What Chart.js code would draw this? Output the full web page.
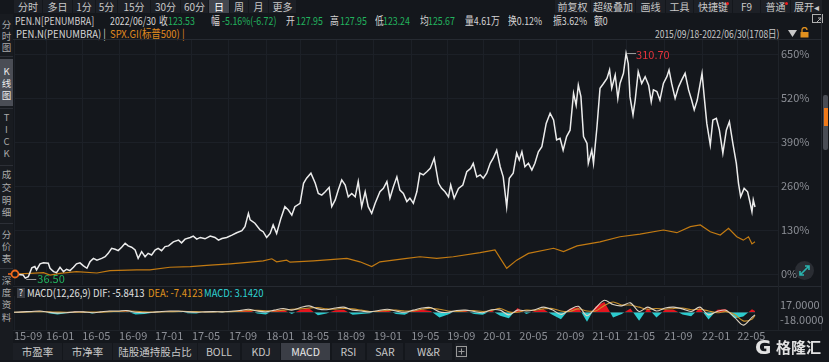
<!DOCTYPE html>
<html><head><meta charset="utf-8">
<script src="https://cdn.jsdelivr.net/npm/chart.js@4.4.0/dist/chart.umd.min.js"></script>
<style>
body{margin:0;width:829px;height:362px;overflow:hidden;background:#14171c;position:relative;font-family:"Noto Sans CJK SC","Noto Sans",sans-serif;font-size:11px;color:#d4d4d4}
.a{position:absolute;white-space:nowrap;line-height:14px;transform:scaleX(0.86);transform-origin:0 50%}
.a.n{transform:scaleX(0.8)}
.tb{position:absolute;top:0;height:13px;background:#1d2026;color:#c9c9c9;font-size:10px;line-height:13px;text-align:center;white-space:nowrap}
.tb.on{background:#44474f;color:#fff}
.sb{position:absolute;left:0;width:13px;text-align:center;font-size:9.5px;line-height:11px;color:#a9a9a9}
.tab{position:absolute;top:343px;height:17px;background:#1c1f25;color:#c8c8c8;font-size:10.5px;line-height:17px;text-align:center;white-space:nowrap}
.tab.on{background:#3b3e46;color:#e8e8e8}
.g{color:#22b35e}
.hl{position:absolute;height:1px;background:#262a31}
.vl{position:absolute;width:1px;background:#262a31}
canvas{position:absolute}
</style></head><body>
<div id="ui"></div>
<canvas id="main" width="829" height="245" style="left:0;top:40px"></canvas>
<canvas id="macd" width="829" height="46" style="left:0;top:296px"></canvas>
<div id="over"></div>
<script>
// ---------- data ----------
const tickIdx = [0,74,157,242,325,410,495,581,661,744,829,915,998,1081,1164,1249,1332,1412,1498,1585,1666];
const tickLabels = ['15-09','16-01','16-05','16-09','17-01','17-05','17-09','18-01','18-05','18-09','19-01','19-05','19-09','20-01','20-05','20-09','21-01','21-05','21-09','22-01','22-05'];
const pctTicks = [0,130,260,390,520,650];
const macdTicks = [17,-18];

const penIdx = [0,21,26,33,41,48,52,60,68,79,83,91,98,106,114,121,129,137,144,152,160,168,175,183,191,202,210,217,225,233,240,248,256,263,271,279,286,294,302,309,317,325,332,340,348,356,367,379,386,394,406,413,421,429,440,452,463,471,479,490,502,513,525,532,540,544,555,567,574,582,590,597,605,615,624,632,640,647,659,667,674,684,694,701,709,717,726,732,740,747,755,763,770,778,786,793,801,809,816,824,832,843,851,859,866,874,882,889,897,905,912,920,928,935,943,951,959,968,978,985,993,1001,1006,1014,1024,1034,1043,1052,1058,1066,1074,1081,1089,1097,1104,1112,1120,1127,1135,1141,1150,1158,1164,1170,1177,1185,1193,1200,1208,1216,1226,1235,1243,1250,1258,1265,1273,1281,1289,1295,1300,1306,1312,1320,1323,1331,1335,1343,1350,1358,1366,1372,1377,1385,1391,1396,1404,1410,1415,1419,1426,1431,1438,1446,1454,1462,1468,1473,1481,1488,1496,1504,1509,1515,1523,1531,1538,1546,1554,1561,1567,1574,1585,1590,1596,1604,1610,1618,1625,1633,1641,1648,1656,1664,1669,1674,1682,1690,1696,1700,1703,1707];
const penPct = [0,-3,-12,-8,18,22,12,30,33,32,17,7,4,20,7,14,10,20,30,33,24,17,36,46,41,46,51,61,76,73,69,79,91,83,79,71,46,66,51,61,56,71,76,69,81,83,95,100,92,103,108,112,103,108,104,112,108,100,105,108,115,122,128,140,179,160,150,130,125,108,120,145,120,165,199,189,174,199,209,268,283,298,268,238,233,243,256,199,219,248,278,263,228,238,228,273,199,243,199,179,209,243,253,273,224,258,287,248,238,214,224,209,243,298,293,302,312,342,268,253,243,228,263,224,253,263,302,312,327,287,293,283,298,327,342,366,317,287,199,283,298,357,337,361,317,327,307,327,361,376,445,475,455,396,401,366,406,425,534,499,558,524,406,386,327,366,327,435,549,563,578,603,549,588,519,563,593,652,622,524,470,514,598,563,583,558,509,544,539,514,563,583,603,563,519,553,573,593,544,514,485,514,593,524,445,381,455,460,425,357,425,450,386,327,268,228,253,243,209,184,219,198];

const spxIdx = [0,37,68,83,106,144,191,221,283,313,359,406,452,498,544,574,594,605,628,636,690,767,797,824,843,905,935,974,1012,1074,1108,1135,1158,1185,1243,1266,1297,1350,1396,1442,1496,1527,1558,1581,1604,1627,1646,1665,1680,1692,1700,1707];
const spxPct = [0,2,4,-3,2,7,3,10,12,12,20,22,26,30,35,39,45,36,41,35,39,46,36,22,36,46,51,46,51,63,71,17,41,61,76,66,83,95,110,118,130,122,140,145,125,115,135,110,100,110,89,95];

const macdIdx = [0,20,40,60,80,100,120,140,160,180,200,220,240,260,280,300,320,340,360,380,400,420,440,460,480,500,520,540,560,580,600,620,640,660,680,700,720,740,760,780,800,820,840,860,880,900,920,940,960,980,1000,1020,1040,1060,1080,1100,1120,1140,1160,1180,1200,1220,1240,1260,1280,1300,1320,1340,1360,1380,1400,1420,1440,1460,1480,1500,1520,1540,1560,1580,1600,1620,1640,1660,1680,1700,1707];
const macdHist = [0,1,2,3,-2,-5,-2,2,1,-3, 1,3,2,2,-5,-4,-1,2,3,2, -2,-3,1,1,-1,2,3,6,-3,-5, 5,6,-4,6,9,-7,-3,5,6,-6, -4,-2,3,5,-4,-6,4,6,3,-12, -5,4,3,-4,-6,4,-8,-14,10,-4, 3,7,-6,-16,8,12,-22,14,24,-12, -4,9,-20,10,-12,6,6,-5,-9,10, -17,6,7,-14,-10,7,3.142];
const macdDif = [0,1,2,3,0,-2,-1,1,1,-1, 1,3,3,4,0,-1,0,2,3,3, 1,0,1,1.5,1,2.5,4,7,3,1, 5,9,5,11,15,8,6,10,12,5, 3,1,4,7,3,0,5,10,11,1, 0,4,5,2,-1,6,5,-6,5,3, 6,12,6,-5,6,14,-8,10,28,18, 15,22,2,12,3,10,12,8,2,12, -6,2,5,-12,-30,-12,-5.8413];
const macdDea = [0,0.5,1,1.5,1,0.5,0,0,0.5,0.5, 0.5,1.5,2,3,2.5,1,0.5,1,1.5,2, 2,1.5,0.8,1,1.2,1.5,2.5,4,4.5,3.5, 3,5,7,8,10,11,8,7.5,9,8, 5,2,2.5,4.5,5,3,3,7,9.5,7, 3,2,3.5,4,2,4,9,1,0,5, 4.5,8,9,3,2,8,3,3,16,24, 17,17,12,7,9,7,9,10,6,7, 3,-1,1.5,-5,-20,-16,-7.4123];

const penHighLabel = '310.70';
const penLowLabel = '36.50';

// ---------- UI chrome ----------
const ui = document.getElementById('ui');
function add(html){ ui.insertAdjacentHTML('beforeend', html); }
const leftBtns = [['分时',14,28],['多日',43,29],['1分',73,22],['5分',96,21],['15分',118,32],['30分',151,29],['60分',181,27],['日',209,20,1],['周',230,18],['月',249,19],['更多',269,27]];
leftBtns.forEach(b=>add(`<div class="tb${b[3]?' on':''}" style="left:${b[1]}px;width:${b[2]}px">${b[0]}</div>`));
const rightBtns = [['前复权',555,35],['超级叠加',591,44],['画线',636,29],['工具',666,27],['快捷键',694,38],['F9',733,27],['普通',761,29],['展开◂',791,31]];
rightBtns.forEach(b=>add(`<div class="tb" style="left:${b[1]}px;width:${b[2]}px">${b[0]}</div>`));
add('<div style="position:absolute;left:726px;top:2px;width:3px;height:3px;border-radius:2px;background:#f02020"></div>');
add('<div style="position:absolute;left:785px;top:2px;width:3px;height:3px;border-radius:2px;background:#f02020"></div>');

const row2 = [[15,'PEN.N[PENUMBRA]'],[110,'2022/06/30'],[159,'收'],[168,'123.53',1],[211,'幅'],[222,'-5.16%(-6.72)',1],[286,'开'],[296,'127.95',1],[330,'高'],[340,'127.95',1],[375,'低'],[383,'123.24',1],[420,'均'],[428,'125.67',1],[465,'量4.61万'],[508,'换0.12%'],[553,'振3.62%'],[594,'额0']];
row2.forEach(r=>add(`<div class="a n${r[2]?' g':''}" style="left:${r[0]}px;top:13px">${r[1]}</div>`));
add('<svg style="position:absolute;left:812px;top:14px" width="12" height="11"><rect x="0.5" y="0.5" width="10" height="8" fill="none" stroke="#b0b0b0"/><path d="M4 9 L9 4 M6 4 H9 V7" stroke="#b0b0b0" fill="none"/></svg>');

add('<div class="a" style="left:16px;top:26px;color:#d8d8d8">PEN.N(PENUMBRA) |</div>');
add('<div class="a" style="left:110px;top:26px;color:#e08a1e">SPX.GI(标普500) |</div>');
add('<div class="a" style="left:655px;top:26px;color:#c8c8c8;text-decoration:underline;transform:scaleX(0.77)">2015/09/18-2022/06/30(1708日)</div>');
add('<svg style="position:absolute;left:788px;top:29px" width="10" height="9"><path d="M0 1 H9 L4.5 8 Z" fill="#c8c8c8"/></svg>');
add('<svg style="position:absolute;left:800px;top:27px" width="9" height="11"><path d="M2 5 V3 A2.5 2.5 0 0 1 7 3" stroke="#e0901e" fill="none" stroke-width="1.3"/><rect x="0.5" y="5" width="8" height="5.5" fill="#e0901e"/></svg>');

// sidebar
add('<div style="position:absolute;left:0;top:14px;width:13px;height:346px;background:#181b20"></div>');
add('<div style="position:absolute;left:0;top:59px;width:13px;height:47px;background:#4a4d55"></div>');
const sideChars = [['分',24],['时',36],['图',47],['K',71,1],['线',83,1],['图',95,1],['T',117],['I',129],['C',141],['K',153],['成',174],['交',187],['明',200],['细',212],['分',234],['价',246],['表',258],['深',280],['度',292],['资',304],['料',317]];
sideChars.forEach(c=>add(`<div class="sb" style="top:${c[1]-5.5}px;${c[2]?'color:#eee':''}">${c[0]}</div>`));
[56,108,165,223,268].forEach(y=>add(`<div style="position:absolute;left:0;top:${y}px;width:13px;height:1px;background:#2c2f36"></div>`));

// panel frame lines
add('<div class="hl" style="left:13px;top:39px;width:809px"></div>');
add('<div class="hl" style="left:13px;top:286px;width:809px"></div>');
add('<div class="hl" style="left:13px;top:330px;width:809px;background:#1e2228"></div>');
add('<div class="vl" style="left:778px;top:40px;height:290px;background:#1f2329"></div>');
add('<div class="vl" style="left:821px;top:14px;height:316px"></div>');

// MACD legend
add('<div style="position:absolute;left:17px;top:288px;width:8px;height:10px;background:#3a3d44;color:#eee;font-size:9px;line-height:10px;text-align:center">?</div>');
add('<div class="a" style="left:27px;top:285px;color:#e0e0e0">MACD(12,26,9)</div>');
add('<div class="a" style="left:93px;top:285px;color:#e0e0e0">DIF: -5.8413</div>');
add('<div class="a" style="left:148px;top:285px;color:#e0941e">DEA: -7.4123</div>');
add('<div class="a" style="left:204px;top:285px;color:#2fd2d4">MACD: 3.1420</div>');

// bottom tabs
const tabs = [['市盈率',13,49],['市净率',63,49],['陆股通持股占比',113,84],['BOLL',198,42],['KDJ',242,38],['MACD',281,49,1],['RSI',332,33],['SAR',367,36],['W&amp;R',405,47],['',455,12]];
tabs.forEach(t=>add(`<div class="tab${t[3]?' on':''}" style="left:${t[1]}px;width:${t[2]}px">${t[0]}</div>`));
add('<svg style="position:absolute;left:456px;top:346px" width="11" height="11"><rect x="0.5" y="0.5" width="10" height="10" fill="none" stroke="#999"/><path d="M5.5 2.5 V8.5 M2.5 5.5 H8.5" stroke="#999"/></svg>');

// ---------- charts ----------
Chart.defaults.font.family = "'Noto Sans CJK SC','Noto Sans',sans-serif";
Chart.defaults.font.size = 11;
const gridColor = '#1c2027';
const tickColor = '#8c8f96';
function xTicksBuild(axis){ axis.ticks = tickIdx.map(v=>({value:v})); }
function noPad(s){ s.paddingTop=0; s.paddingBottom=0; s.paddingLeft=0; s.paddingRight=0; }

const marks = {
  id:'marks',
  afterDatasetsDraw(chart){
    const {ctx, scales:{x,y}} = chart;
    let hi=0, lo=0;
    penPct.forEach((v,i)=>{ if(v>penPct[hi]) hi=i; if(v<penPct[lo]) lo=i; });
    ctx.save();
    ctx.font = "11px 'Noto Sans CJK SC','Noto Sans',sans-serif";
    ctx.textBaseline = 'middle';
    ctx.lineWidth = 1;
    ctx.strokeStyle = '#9a9a9a';
    const hx = x.getPixelForValue(penIdx[hi]), hy = y.getPixelForValue(penPct[hi]);
    ctx.beginPath(); ctx.moveTo(hx+1, Math.round(hy)+0.5); ctx.lineTo(hx+10, Math.round(hy)+0.5); ctx.stroke();
    ctx.fillStyle = '#e3333b'; ctx.fillText(penHighLabel, hx+10, hy+1);
    const lx = x.getPixelForValue(penIdx[lo]), ly = y.getPixelForValue(penPct[lo]);
    ctx.beginPath(); ctx.moveTo(lx+1, Math.round(ly)+1.5); ctx.lineTo(lx+11, Math.round(ly)+1.5); ctx.stroke();
    ctx.fillStyle = '#22b35e'; ctx.fillText(penLowLabel, lx+12, ly+1);
    // start marker
    const sx = x.getPixelForValue(spxIdx[0]), sy = y.getPixelForValue(spxPct[0]);
    ctx.strokeStyle = '#f26b1d'; ctx.lineWidth = 1.8;
    ctx.beginPath(); ctx.arc(sx+1, sy, 3.5, 0, Math.PI*2); ctx.fillStyle='#14171c'; ctx.fill(); ctx.stroke();
    ctx.lineWidth = 1.5;
    ctx.beginPath(); ctx.moveTo(sx-6, sy); ctx.lineTo(sx-3, sy); ctx.stroke();
    ctx.restore();
  }
};

new Chart(document.getElementById('main'), {
  type:'line',
  data:{ datasets:[
    { data: penIdx.map((v,i)=>({x:v,y:penPct[i]})), borderColor:'#ececec', borderWidth:1.5, pointRadius:0, tension:0 },
    { data: spxIdx.map((v,i)=>({x:v,y:spxPct[i]})), borderColor:'#c27a12', borderWidth:1.2, pointRadius:0, tension:0 }
  ]},
  options:{
    responsive:false, animation:false, devicePixelRatio:1,
    layout:{ padding:{left:14,right:0,top:0,bottom:0} },
    plugins:{ legend:{display:false}, tooltip:{enabled:false} },
    scales:{
      x:{ type:'linear', min:0, max:1760, afterBuildTicks:xTicksBuild, afterFit:noPad,
          ticks:{display:false}, grid:{color:gridColor, drawTicks:false}, border:{display:false} },
      y:{ position:'right', min:-32.5, max:691.4,
          afterBuildTicks:a=>{ a.ticks = pctTicks.map(v=>({value:v})); },
          afterFit:s=>{ s.width=51; noPad(s); },
          ticks:{ color:tickColor, padding:3, callback:v=>v+'%' },
          grid:{color:gridColor, drawTicks:false}, border:{display:false} }
    }
  },
  plugins:[marks]
});

new Chart(document.getElementById('macd'), {
  type:'line',
  data:{ datasets:[
    { data: macdIdx.map((v,i)=>({x:v,y:macdDif[i]})), borderColor:'#ddd3c2', borderWidth:1.1, pointRadius:0, tension:0.3 },
    { data: macdIdx.map((v,i)=>({x:v,y:macdDea[i]})), borderColor:'#c8902c', borderWidth:1.1, pointRadius:0, tension:0.3 },
    { data: macdIdx.map((v,i)=>({x:v,y:macdHist[i]})), borderWidth:0, borderColor:'rgba(0,0,0,0)', pointRadius:0, tension:0,
      fill:{target:'origin', above:'#e3161f', below:'#2ccbce'} }
  ]},
  options:{
    responsive:false, animation:false, devicePixelRatio:1,
    layout:{ padding:{left:14,right:0,top:0,bottom:0} },
    plugins:{ legend:{display:false}, tooltip:{enabled:false} },
    scales:{
      x:{ type:'linear', min:0, max:1760, afterBuildTicks:xTicksBuild,
          afterFit:s=>{ s.height=12; noPad(s); },
          ticks:{ color:tickColor, padding:-1, align:'start', autoSkip:false, maxRotation:0,
                  callback:v=>{ const k=tickIdx.indexOf(v); return k>=0?tickLabels[k]:''; } },
          grid:{color:gridColor, drawTicks:false}, border:{display:false} },
      y:{ position:'right', min:-41.3, max:38,
          afterBuildTicks:a=>{ a.ticks = macdTicks.map(v=>({value:v})); },
          afterFit:s=>{ s.width=51; noPad(s); },
          ticks:{ color:tickColor, padding:2, callback:v=>v.toFixed(4) },
          grid:{display:false, drawTicks:false}, border:{display:false} }
    }
  }
});

// overlays on top of canvases
const over = document.getElementById('over');
over.insertAdjacentHTML('beforeend',
 '<div style="position:absolute;left:795px;top:261px;width:19px;height:19px;border-radius:10px;background:#2a2d33"></div>'+
 '<svg style="position:absolute;left:795px;top:261px" width="19" height="19"><path d="M5 14 L14 5 M10 5 H14 V9 M5 10 V14 H9" stroke="#2ab3ae" stroke-width="1.6" fill="none"/></svg>'+
 '<div style="position:absolute;left:823px;top:95px;width:5px;height:55px;border-radius:2px;background:#4a4d55"></div>'+
 '<div style="position:absolute;left:824px;top:108px;width:4px;height:18px;background:#f07a1a"></div>'+
 '<div style="position:absolute;left:755px;top:337px;font:900 20px \'DejaVu Sans\',sans-serif;color:#e2e2e2;line-height:20px">G</div>'+
 '<div style="position:absolute;left:776px;top:337px;font:bold 15px \'Noto Sans CJK SC\',sans-serif;color:#e2e2e2;line-height:19px">格隆汇</div>');
</script>
</body></html>
